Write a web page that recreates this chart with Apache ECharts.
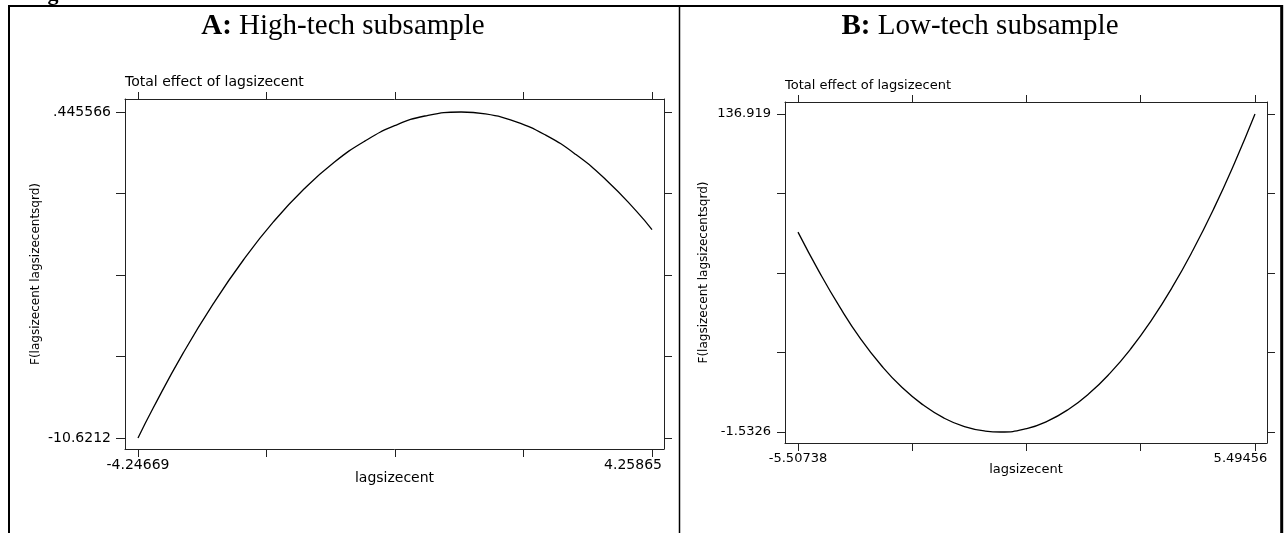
<!DOCTYPE html>
<html>
<head>
<meta charset="utf-8">
<script src="https://cdn.jsdelivr.net/npm/echarts@6/dist/echarts.min.js"></script>
<style>
html,body{margin:0;padding:0;background:#fff;}
#chart{width:1284px;height:533px;}
</style>
</head>
<body>
<div id="chart"></div>
<script>
// ---- data ----
const panelAX = [-4.24669, -4, -3.5, -3, -2.5, -2, -1.5, -1, -0.5, 0, 0.5, 1.1, 1.5, 2, 2.5, 3, 3.5, 4, 4.25865];
const panelAY = [-10.6212, -9.62, -7.74, -6.06, -4.57, -3.27, -2.17, -1.26, -0.55, -0.02, 0.31, 0.445566, 0.38, 0.12, -0.34, -1.00, -1.86, -2.92, -3.55];
const panelBX = [-5.50738, -5, -4.5, -4, -3.5, -3, -2.5, -2, -1.5, -1, -0.63, 0, 0.5, 1, 1.5, 2, 2.5, 3, 3.5, 4, 4.5, 5, 5.49456];
const panelBY = [85.5, 68.3, 52.8, 39.0, 27.4, 17.8, 10.3, 4.6, 0.8, -1.13, -1.5326, -0.07, 3.18, 8.27, 15.2, 24.0, 34.6, 47.1, 61.4, 77.6, 95.6, 115.5, 136.919];

const panelAXLabels = ['-4.24669', '4.25865'];
const panelAYLabels = ['-10.6212', '.445566'];
const panelBXLabels = ['-5.50738', '5.49456'];
const panelBYLabels = ['-1.5326', '136.919'];

const titleA = 'High-tech subsample';
const titleB = 'Low-tech subsample';
const subTitle = 'Total effect of lagsizecent';
const xName = 'lagsizecent';
const yName = 'F(lagsizecent lagsizecentsqrd)';

// ---- helpers ----
function ticks5(labels){
  const a = parseFloat(labels[0]), b = parseFloat(labels[1]);
  const out = [];
  for (let i = 0; i < 5; i++) out.push(a + (b - a) * i / 4);
  return out;
}
function fmt(labels, shiftLast){
  return function(v){
    let best = 0, d = Infinity;
    labels.forEach((l, i) => { const dd = Math.abs(parseFloat(l) - v); if (dd < d) { d = dd; best = i; } });
    return (shiftLast && best === labels.length - 1) ? '{r|' + labels[best] + '}' : labels[best];
  };
}
const FONT = 'DejaVu Sans';
const LINE = '#222';

function xAxes(grid, labels, min, max, fs, gap, shiftPad){
  const t = ticks5(labels);
  return [
    { type:'value', gridIndex:grid, position:'bottom', min:min, max:max,
      axisLine:{show:true, onZero:false, lineStyle:{color:LINE, width:1}},
      axisTick:{show:true, inside:false, length:8, customValues:t, lineStyle:{color:LINE}},
      axisLabel:{show:true, customValues:labels.map(parseFloat), formatter:fmt(labels, true), margin:9,
        fontFamily:FONT, fontSize:fs, color:'#000',
        rich:{r:{fontFamily:FONT, fontSize:fs, color:'#000', padding:[0, shiftPad, 0, 0]}}},
      splitLine:{show:false},
      name:xName, nameLocation:'middle', nameGap:gap, nameMoveOverlap:false,
      nameTextStyle:{fontFamily:FONT, fontSize:fs, color:'#000'} },
    { type:'value', gridIndex:grid, position:'top', min:min, max:max,
      axisLine:{show:true, onZero:false, lineStyle:{color:LINE, width:1}},
      axisTick:{show:true, inside:false, length:7, customValues:t, lineStyle:{color:LINE}},
      axisLabel:{show:false}, splitLine:{show:false} }
  ];
}
function yAxes(grid, labels, min, max, fs, gap, tl){
  const t = ticks5(labels);
  return [
    { type:'value', gridIndex:grid, position:'left', min:min, max:max,
      axisLine:{show:true, onZero:false, lineStyle:{color:LINE, width:1}},
      axisTick:{show:true, inside:false, length:tl, customValues:t, lineStyle:{color:LINE}},
      axisLabel:{show:true, customValues:labels.map(parseFloat), formatter:fmt(labels, false), margin:14,
        fontFamily:FONT, fontSize:fs, color:'#000'},
      splitLine:{show:false},
      name:yName, nameLocation:'middle', nameGap:gap, nameRotate:90, nameMoveOverlap:false,
      nameTextStyle:{fontFamily:FONT, fontSize:12, color:'#000'} },
    { type:'value', gridIndex:grid, position:'right', min:min, max:max,
      axisLine:{show:true, onZero:false, lineStyle:{color:LINE, width:1}},
      axisTick:{show:true, inside:false, length:8, customValues:t, lineStyle:{color:LINE}},
      axisLabel:{show:false}, splitLine:{show:false} }
  ];
}

const chart = echarts.init(document.getElementById('chart'), null, {renderer:'canvas'});
const option = {
  animation:false,
  backgroundColor:'#fff',
  title:[
    { text:'{b|A:} ' + titleA, left:343, top:12, textAlign:'center', padding:0,
      textStyle:{fontFamily:'Liberation Serif', fontSize:29, fontWeight:'normal', color:'#000',
        rich:{b:{fontFamily:'Liberation Serif', fontSize:29, fontWeight:'bold', color:'#000'}}} },
    { text:'{b|B:} ' + titleB, left:980, top:12, textAlign:'center', padding:0,
      textStyle:{fontFamily:'Liberation Serif', fontSize:29, fontWeight:'normal', color:'#000',
        rich:{b:{fontFamily:'Liberation Serif', fontSize:29, fontWeight:'bold', color:'#000'}}} },
    { text:subTitle, left:125, top:75, padding:0,
      textStyle:{fontFamily:FONT, fontSize:14, fontWeight:'normal', color:'#000'} },
    { text:subTitle, left:785, top:79, padding:0,
      textStyle:{fontFamily:FONT, fontSize:13, fontWeight:'normal', color:'#000'} }
  ],
  grid:[
    { left:125, top:99, width:539, height:350, containLabel:false },
    { left:785, top:102, width:482, height:341, containLabel:false }
  ],
  xAxis:[
    ...xAxes(0, panelAXLabels, -4.4618, 4.4572, 14, 22, 38),
    ...xAxes(1, panelBXLabels, -5.8204, 5.7835, 13, 20, 29)
  ],
  yAxis:[
    ...yAxes(0, panelAYLabels, -10.9946, 0.8869, 14, 83, 9),
    ...yAxes(1, panelBYLabels, -6.322, 142.143, 13, 75, 8)
  ],
  series:[
    { type:'line', xAxisIndex:0, yAxisIndex:0, smooth:true, showSymbol:false, silent:true,
      lineStyle:{color:'#000', width:1.3},
      data: panelAX.map((x,i) => [x, panelAY[i]]) },
    { type:'line', xAxisIndex:2, yAxisIndex:2, smooth:true, showSymbol:false, silent:true,
      lineStyle:{color:'#000', width:1.3},
      data: panelBX.map((x,i) => [x, panelBY[i]]) }
  ],
  graphic:[
    { type:'text', x:28, y:5, style:{text:'Figure', font:'bold 22px "Liberation Serif"', fill:'#000', textVerticalAlign:'bottom'} },
    { type:'line', shape:{x1:8, y1:6, x2:1283, y2:6}, style:{stroke:'#000', lineWidth:2} },
    { type:'line', shape:{x1:9, y1:5, x2:9, y2:533}, style:{stroke:'#000', lineWidth:2} },
    { type:'line', shape:{x1:1281.7, y1:5, x2:1281.7, y2:533}, style:{stroke:'#000', lineWidth:3} },
    { type:'line', shape:{x1:679.5, y1:5, x2:679.5, y2:533}, style:{stroke:'#000', lineWidth:1.5} }
  ]
};
chart.setOption(option);
</script>
</body>
</html>
